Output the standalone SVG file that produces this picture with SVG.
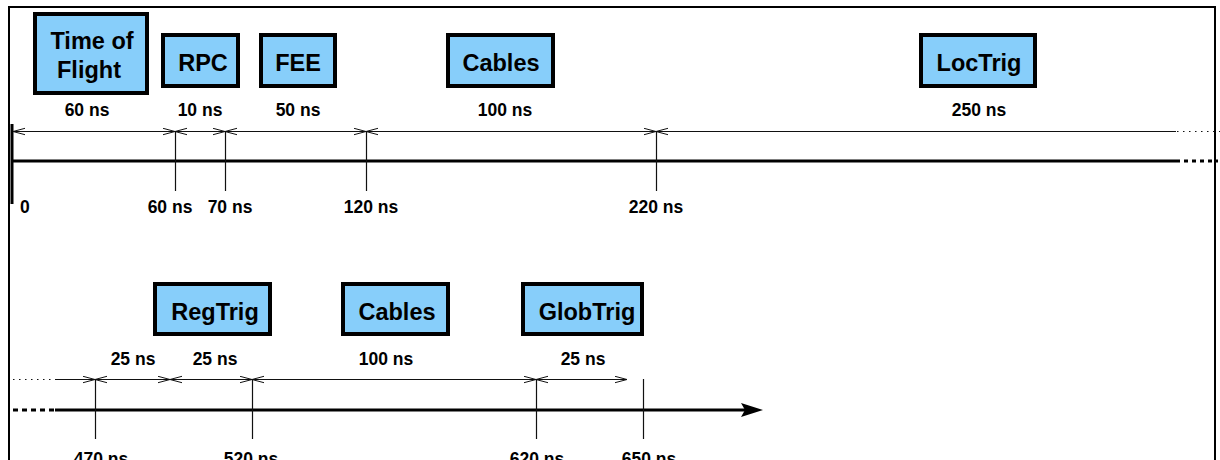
<svg xmlns="http://www.w3.org/2000/svg" width="1220" height="460" viewBox="0 0 1220 460">
<style>
.box{fill:#87CEFA;stroke:#000;stroke-width:4}
.bl{font-family:"Liberation Sans",Arial,sans-serif;font-weight:bold;font-size:23.5px;text-anchor:middle;fill:#000}
.lb{font-family:"Liberation Sans",Arial,sans-serif;font-weight:bold;font-size:17.5px;text-anchor:middle;fill:#000}
.dim{stroke:#111;stroke-width:1;fill:none}
.tick{stroke:#111;stroke-width:1.2;fill:none}
.axis{stroke:#000;stroke-width:3;fill:none}
</style>
<defs>
<marker id="v" markerUnits="userSpaceOnUse" markerWidth="14" markerHeight="9" refX="12" refY="4" orient="auto-start-reverse" viewBox="0 0 14 9">
<path d="M0,0.8 L12,4 L0,7.2" fill="none" stroke="#111" stroke-width="1"/>
</marker>
</defs>
<rect x="0" y="0" width="1220" height="460" fill="#fff"/>
<path d="M9,460 V7 H1215 V460" fill="none" stroke="#000" stroke-width="2"/>

<g id="n-tof"><rect class="box" x="35" y="14" width="112" height="79"/><text class="bl" x="92" y="49">Time of</text><text class="bl" x="89" y="78">Flight</text></g>
<g id="n-rpc"><rect class="box" x="163" y="35" width="75" height="51"/><text class="bl" x="203" y="71">RPC</text></g>
<g id="n-fee"><rect class="box" x="261" y="35" width="74" height="51"/><text class="bl" x="298" y="71">FEE</text></g>
<g id="n-cables1"><rect class="box" x="448" y="35" width="105" height="51"/><text class="bl" x="501" y="71">Cables</text></g>
<g id="n-loctrig"><rect class="box" x="921" y="35" width="114" height="51"/><text class="bl" x="979" y="71">LocTrig</text></g>
<g id="n-regtrig"><rect class="box" x="155" y="284" width="115" height="50"/><text class="bl" x="215" y="320">RegTrig</text></g>
<g id="n-cables2"><rect class="box" x="343" y="284" width="105" height="50"/><text class="bl" x="397" y="320">Cables</text></g>
<g id="n-globtrig"><rect class="box" x="523" y="284" width="119" height="50"/><text class="bl" x="587" y="320">GlobTrig</text></g>

<g id="connectors">
<line x1="12" y1="124" x2="12" y2="204" stroke="#000" stroke-width="3"/>
<line class="axis" x1="12" y1="161" x2="1176" y2="161"/>
<line class="axis" x1="1176" y1="161" x2="1218" y2="161" stroke-dasharray="4,4"/>
<line class="dim" x1="13" y1="131.5" x2="175" y2="131.5" marker-start="url(#v)" marker-end="url(#v)"/>
<line class="dim" x1="175" y1="131.5" x2="225" y2="131.5" marker-start="url(#v)" marker-end="url(#v)"/>
<line class="dim" x1="225" y1="131.5" x2="366" y2="131.5" marker-start="url(#v)" marker-end="url(#v)"/>
<line class="dim" x1="366" y1="131.5" x2="656" y2="131.5" marker-start="url(#v)" marker-end="url(#v)"/>
<line class="dim" x1="656" y1="131.5" x2="1176" y2="131.5" marker-start="url(#v)"/>
<line class="dim" x1="1177" y1="131.5" x2="1220" y2="131.5" stroke-dasharray="1.5,4.5"/>
<line class="tick" x1="175.5" y1="131" x2="175.5" y2="191"/>
<line class="tick" x1="225.5" y1="131" x2="225.5" y2="191"/>
<line class="tick" x1="366.5" y1="131" x2="366.5" y2="191"/>
<line class="tick" x1="656.5" y1="131" x2="656.5" y2="191"/>

<line class="axis" x1="13" y1="410" x2="55" y2="410" stroke-dasharray="5,4"/>
<line class="axis" x1="55" y1="410" x2="745" y2="410"/>
<path d="M763,410 L741,403 L745,410 L741,417 Z" fill="#000"/>
<line class="dim" x1="13" y1="379.5" x2="55" y2="379.5" stroke-dasharray="1.5,4.5"/>
<line class="dim" x1="55" y1="379.5" x2="95" y2="379.5" marker-end="url(#v)"/>
<line class="dim" x1="95" y1="379.5" x2="170" y2="379.5" marker-start="url(#v)" marker-end="url(#v)"/>
<line class="dim" x1="170" y1="379.5" x2="252" y2="379.5" marker-start="url(#v)" marker-end="url(#v)"/>
<line class="dim" x1="252" y1="379.5" x2="536" y2="379.5" marker-start="url(#v)" marker-end="url(#v)"/>
<line class="dim" x1="536" y1="379.5" x2="627" y2="379.5" marker-start="url(#v)" marker-end="url(#v)"/>
<line class="tick" x1="95.5" y1="379" x2="95.5" y2="439"/>
<line class="tick" x1="252.5" y1="379" x2="252.5" y2="439"/>
<line class="tick" x1="536.5" y1="379" x2="536.5" y2="439"/>
<line class="tick" x1="643.5" y1="379" x2="643.5" y2="439"/>
</g>

<g id="labels">
<text class="lb" x="87" y="116">60 ns</text>
<text class="lb" x="200" y="116">10 ns</text>
<text class="lb" x="298" y="116">50 ns</text>
<text class="lb" x="505" y="116">100 ns</text>
<text class="lb" x="979" y="116">250 ns</text>
<text class="lb" x="20" y="213" text-anchor="start" style="text-anchor:start">0</text>
<text class="lb" x="170" y="213">60 ns</text>
<text class="lb" x="230" y="213">70 ns</text>
<text class="lb" x="371" y="213">120 ns</text>
<text class="lb" x="656" y="213">220 ns</text>
<text class="lb" x="133" y="365">25 ns</text>
<text class="lb" x="215" y="365">25 ns</text>
<text class="lb" x="386" y="365">100 ns</text>
<text class="lb" x="583" y="365">25 ns</text>
<text class="lb" x="101" y="465">470 ns</text>
<text class="lb" x="251" y="465">520 ns</text>
<text class="lb" x="537" y="465">620 ns</text>
<text class="lb" x="649" y="465">650 ns</text>
</g>
</svg>
